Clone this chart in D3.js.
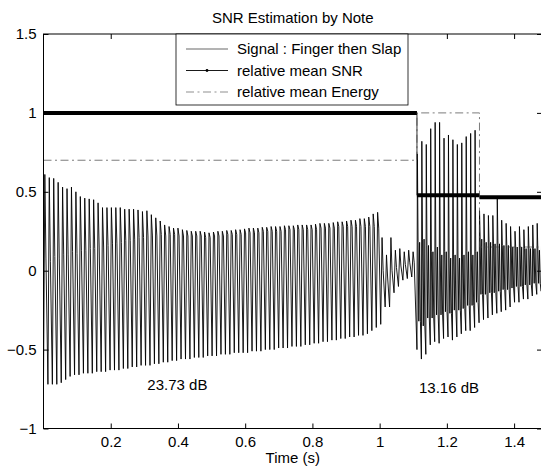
<!DOCTYPE html>
<html>
<head>
<meta charset="utf-8">
<script src="https://cdn.jsdelivr.net/npm/d3@7"></script>
<style>
  body { margin: 0; background: #fff; }
  svg { display: block; font-family: "Liberation Sans", Arial, sans-serif; }
</style>
</head>
<body>
<div id="chart"></div>
<script>
// one cycle of the note (s), read from the spacing of the peaks
const cyclePeriod = 0.0132;
const fingerStart = 0;
const dampStart = 1.0032;
const slapStart = 1.111;

// finger note: per cycle peak / middle band / trough
const fingerPeak = [
  0.61, 0.59, 0.585, 0.56, 0.53, 0.52, 0.53, 0.50, 0.47, 0.46,
  0.455, 0.45, 0.43, 0.40, 0.40, 0.40, 0.40, 0.40, 0.39, 0.39,
  0.39, 0.385, 0.375, 0.38, 0.355, 0.335, 0.315, 0.29, 0.28, 0.27,
  0.27, 0.26, 0.255, 0.25, 0.25, 0.25, 0.245, 0.24, 0.245, 0.25,
  0.25, 0.255, 0.255, 0.26, 0.26, 0.265, 0.27, 0.27, 0.27, 0.275,
  0.275, 0.28, 0.28, 0.28, 0.285, 0.285, 0.285, 0.29, 0.29, 0.29,
  0.29, 0.295, 0.30, 0.30, 0.30, 0.305, 0.31, 0.31, 0.315, 0.32,
  0.32, 0.33, 0.33, 0.34, 0.36, 0.37
];
const fingerMid = [
  0.08, 0.06, 0.09, 0.08, 0.10, 0.10, 0.12, 0.11, 0.13, 0.13,
  0.14, 0.14, 0.15, 0.15, 0.16, 0.17, 0.17, 0.18, 0.19, 0.19,
  0.20, 0.21, 0.21, 0.22, 0.22, 0.22, 0.23, 0.22, 0.23, 0.23,
  0.22, 0.22, 0.22, 0.22, 0.22, 0.22, 0.21, 0.21, 0.22, 0.22,
  0.22, 0.23, 0.23, 0.23, 0.23, 0.24, 0.24, 0.24, 0.24, 0.25,
  0.25, 0.25, 0.25, 0.25, 0.26, 0.26, 0.26, 0.26, 0.26, 0.26,
  0.26, 0.26, 0.27, 0.27, 0.27, 0.27, 0.28, 0.28, 0.28, 0.28,
  0.28, 0.28, 0.28, 0.28, 0.28, 0.27
];
const fingerTrough = [
  -0.70, -0.72, -0.72, -0.72, -0.71, -0.69, -0.67, -0.66, -0.66, -0.65,
  -0.65, -0.65, -0.64, -0.64, -0.64, -0.63, -0.63, -0.63, -0.62, -0.62,
  -0.61, -0.61, -0.60, -0.60, -0.60, -0.59, -0.59, -0.58, -0.58, -0.57,
  -0.57, -0.56, -0.56, -0.56, -0.55, -0.55, -0.55, -0.54, -0.54, -0.54,
  -0.53, -0.53, -0.53, -0.52, -0.52, -0.52, -0.52, -0.51, -0.51, -0.51,
  -0.50, -0.50, -0.50, -0.49, -0.49, -0.49, -0.48, -0.48, -0.48, -0.47,
  -0.47, -0.46, -0.46, -0.45, -0.45, -0.44, -0.44, -0.43, -0.43, -0.42,
  -0.42, -0.41, -0.41, -0.40, -0.38, -0.36
];

// damped tail between the two notes
const dampPeak = [0.21, 0.10, 0.21, 0.13, 0.14, 0.12, 0.13, 0.12];
const dampMid = [0.00, -0.04, 0.00, 0.02, 0.03, 0.04, 0.05, 0.05];
const dampTrough = [-0.34, -0.23, -0.23, -0.14, -0.10, -0.06, -0.05, -0.04];

// slap note: spike / top of the dense part / bottom of the dense part / trough
const slapPeak = [
  0.74, 0.82, 0.80, 0.90, 0.94, 0.94, 0.84, 0.86, 0.83, 0.80, 0.81, 0.85, 0.87, 0.89,
  0.38, 0.36, 0.35, 0.35, 0.47, 0.32, 0.30, 0.28, 0.25, 0.28, 0.26, 0.28, 0.29, 0.30, 0.28
];
const slapHigh = [
  0.18, 0.20, 0.16, 0.12, 0.15, 0.10, 0.12, 0.08, 0.10, 0.08, 0.10, 0.12, 0.10, 0.12,
  0.20, 0.18, 0.18, 0.17, 0.17, 0.16, 0.16, 0.15, 0.15, 0.15, 0.14, 0.14, 0.14, 0.13, 0.13
];
const slapLow = [
  -0.32, -0.35, -0.30, -0.30, -0.28, -0.28, -0.26, -0.27, -0.25, -0.25, -0.24, -0.22, -0.22, -0.20,
  -0.15, -0.15, -0.14, -0.14, -0.13, -0.12, -0.12, -0.11, -0.10, -0.10, -0.09, -0.09, -0.08, -0.08, -0.07
];
const slapTrough = [
  -0.50, -0.56, -0.53, -0.47, -0.45, -0.46, -0.43, -0.42, -0.44, -0.42, -0.40, -0.38, -0.38, -0.36,
  -0.33, -0.31, -0.30, -0.28, -0.27, -0.26, -0.25, -0.23, -0.20, -0.20, -0.18, -0.18, -0.16, -0.15, -0.13
];

// per note segments
const segStarts = [0, 1.111, 1.297];
const segEnd = 1.483;
const snrValues = [1, 0.478, 0.466];
const energyValues = [0.70, 1.0, 0.15];

const xTicks = [0.2, 0.4, 0.6, 0.8, 1, 1.2, 1.4];
const yTicks = [-1, -0.5, 0, 0.5, 1, 1.5];
const dbLabels = ["23.73 dB", "13.16 dB"];
const dbT = [0.309, 1.117];
const dbV = [-0.725, -0.74];
const legendNames = ["Signal : Finger then Slap", "relative mean SNR", "relative mean Energy"];

const width = 541, height = 466;
const plot = { left: 43.5, right: 542, top: 34, bottom: 428.5 };
const fontSize = 15;

const svg = d3.select("#chart")
  .append("svg")
  .attr("width", width)
  .attr("height", height);

const x = d3.scaleLinear().domain([0, segEnd]).range([plot.left, plot.right]);
const y = d3.scaleLinear().domain([-1, 1.5]).range([plot.bottom, plot.top]);

svg.append("clipPath").attr("id", "clip")
  .append("rect")
  .attr("x", plot.left).attr("y", plot.top)
  .attr("width", plot.right - plot.left).attr("height", plot.bottom - plot.top);

// build the waveform, cycle by cycle
const signal = [];
function addCycles(start, phases, rows) {
  rows[0].forEach((_, i) => {
    const t0 = start + i * cyclePeriod;
    phases.forEach((p, k) => signal.push([t0 + p * cyclePeriod, rows[k][i]]));
  });
}
addCycles(fingerStart, [0, 0.3, 0.55], [fingerTrough, fingerPeak, fingerMid]);
addCycles(dampStart, [0, 0.3, 0.55], [dampTrough, dampPeak, dampMid]);
addCycles(slapStart, [0, 0.1, 0.25, 0.42, 0.6, 0.78],
  [slapTrough, slapPeak, slapHigh, slapLow, slapHigh, slapLow]);

const marks = svg.append("g").attr("clip-path", "url(#clip)");

marks.append("path")
  .datum(signal)
  .attr("fill", "none")
  .attr("stroke", "#000")
  .attr("stroke-width", 0.9)
  .attr("d", d3.line().x(d => x(d[0])).y(d => y(d[1])));

// step lines for SNR and energy
const steps = segStarts.map((t, i) => ({ t, snr: snrValues[i], energy: energyValues[i] }));
steps.push({ t: segEnd, snr: snrValues[2], energy: energyValues[2] });
const stepLine = key => d3.line().x(d => x(d.t)).y(d => y(d[key])).curve(d3.curveStepAfter);

marks.append("path")
  .datum(steps)
  .attr("fill", "none")
  .attr("stroke", "#000")
  .attr("stroke-width", 0.8)
  .attr("d", stepLine("snr"));

// dense markers make the flat parts look thick
marks.selectAll(".snrseg")
  .data(segStarts)
  .join("line")
  .attr("x1", d => x(d))
  .attr("x2", (d, i) => x(i < segStarts.length - 1 ? segStarts[i + 1] : segEnd))
  .attr("y1", (d, i) => y(snrValues[i]))
  .attr("y2", (d, i) => y(snrValues[i]))
  .attr("stroke", "#000")
  .attr("stroke-width", 4);

marks.append("path")
  .datum(steps)
  .attr("fill", "none")
  .attr("stroke", "#444")
  .attr("stroke-width", 0.7)
  .attr("stroke-dasharray", "8,3.5,2,3.5")
  .attr("d", stepLine("energy"));

// dB annotations
svg.selectAll(".db")
  .data(dbLabels)
  .join("text")
  .attr("x", (d, i) => x(dbT[i]))
  .attr("y", (d, i) => y(dbV[i]))
  .attr("dy", "0.35em")
  .attr("font-size", fontSize)
  .text(d => d);

// axes with inward ticks on all sides
const fmt = d3.format("");
const styleAxis = g => {
  g.select(".domain").remove();
  g.selectAll("text").attr("font-size", fontSize).attr("font-family", "Liberation Sans, Arial, sans-serif").attr("fill", "#000");
  g.selectAll("line").attr("stroke", "#000");
};
svg.append("g")
  .attr("transform", `translate(0,${plot.bottom})`)
  .call(d3.axisBottom(x).tickValues(xTicks).tickSize(-5).tickPadding(8).tickFormat(fmt))
  .call(styleAxis);
svg.append("g")
  .attr("transform", `translate(0,${plot.top})`)
  .call(d3.axisTop(x).tickValues(xTicks).tickSize(-5).tickFormat(""))
  .call(styleAxis);
svg.append("g")
  .attr("transform", `translate(${plot.left},0)`)
  .call(d3.axisLeft(y).tickValues(yTicks).tickSize(-5).tickPadding(7).tickFormat(fmt))
  .call(styleAxis);
svg.append("g")
  .attr("transform", `translate(${plot.right},0)`)
  .call(d3.axisRight(y).tickValues(yTicks).tickSize(-5).tickFormat(""))
  .call(styleAxis);

svg.append("rect")
  .attr("x", plot.left).attr("y", plot.top)
  .attr("width", plot.right - plot.left).attr("height", plot.bottom - plot.top)
  .attr("fill", "none").attr("stroke", "#000").attr("stroke-width", 1);

// title and x label
const cx = (plot.left + plot.right) / 2;
svg.append("text").attr("x", cx).attr("y", 23).attr("text-anchor", "middle")
  .attr("font-size", fontSize).text("SNR Estimation by Note");
svg.append("text").attr("x", cx).attr("y", 463).attr("text-anchor", "middle")
  .attr("font-size", fontSize).text("Time (s)");

// legend
const legend = svg.append("g");
legend.append("rect")
  .attr("x", 176).attr("y", plot.top).attr("width", 232).attr("height", 71)
  .attr("fill", "#fff").attr("stroke", "#000").attr("stroke-width", 0.8);
const rowY = [49, 70.5, 92];
const rows = legend.selectAll(".row").data(legendNames).join("g")
  .attr("transform", (d, i) => `translate(0,${rowY[i]})`);
rows.append("line")
  .attr("x1", 186).attr("x2", 228)
  .attr("stroke", (d, i) => i === 2 ? "#444" : "#000")
  .attr("stroke-width", (d, i) => i === 1 ? 0.9 : 0.6)
  .attr("stroke-dasharray", (d, i) => i === 2 ? "8,3.5,2,3.5" : null);
rows.filter((d, i) => i === 1).append("circle")
  .attr("cx", 207).attr("r", 1.4).attr("fill", "#000");
rows.append("text")
  .attr("x", 237).attr("dy", "0.35em")
  .attr("font-size", fontSize)
  .text(d => d);
</script>
</body>
</html>
